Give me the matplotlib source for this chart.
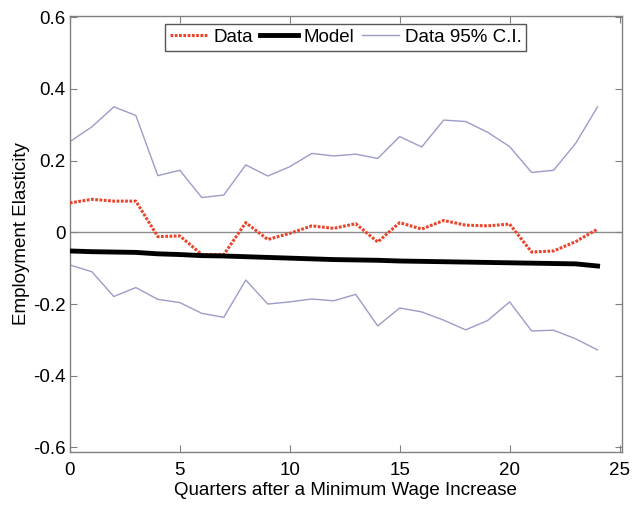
import numpy as np
import matplotlib
matplotlib.use("Agg")
import matplotlib.pyplot as plt

plt.rcParams['font.family'] = ['Liberation Sans', 'DejaVu Sans']

# Valeurs (trimestres 0 à 24)
quarters = list(range(25))
data = [0.082, 0.092, 0.087, 0.087, -0.012, -0.010, -0.062, -0.062, 0.027, -0.020,
        -0.003, 0.018, 0.011, 0.024, -0.027, 0.027, 0.009, 0.033, 0.020, 0.018,
        0.023, -0.055, -0.052, -0.026, 0.009]
model = [-0.052, -0.054, -0.055, -0.056, -0.060, -0.062, -0.065, -0.066, -0.068, -0.070,
         -0.072, -0.074, -0.076, -0.077, -0.078, -0.080, -0.081, -0.082, -0.083, -0.084,
         -0.085, -0.086, -0.087, -0.088, -0.094]
ci_upper = [0.253, 0.294, 0.350, 0.326, 0.158, 0.173, 0.097, 0.104, 0.188, 0.157,
            0.183, 0.220, 0.213, 0.218, 0.206, 0.267, 0.238, 0.313, 0.309, 0.279,
            0.239, 0.167, 0.173, 0.248, 0.350]
ci_lower = [-0.091, -0.110, -0.179, -0.154, -0.187, -0.196, -0.226, -0.237, -0.133, -0.200,
            -0.194, -0.186, -0.191, -0.173, -0.261, -0.211, -0.222, -0.245, -0.272, -0.246,
            -0.194, -0.275, -0.273, -0.297, -0.328]

fs = 13.5

fig = plt.figure(figsize=(6.41, 5.08), dpi=100)
ax = fig.add_axes([0.109, 0.110, 0.861, 0.859])

ax.axhline(0, color='#8c8c8c', linewidth=1.0, zorder=1)
ax.plot(quarters, data, color='#e8452c', linestyle=(0, (0.9, 0.5)), linewidth=2.2, label='Data', zorder=3)
ax.plot(quarters, model, color='black', linewidth=3.5, label='Model', zorder=4)
ax.plot(quarters, ci_upper, color='#9c9cc8', linewidth=1.0, label='Data 95% C.I.', zorder=2)
ax.plot(quarters, ci_lower, color='#9c9cc8', linewidth=1.0, zorder=2)

ax.set_xlim(0, 25.1)
ax.set_ylim(-0.613, 0.604)
ax.set_xticks([0, 5, 10, 15, 20, 25])
ax.set_yticks([-0.6, -0.4, -0.2, 0, 0.2, 0.4, 0.6])
ax.set_yticklabels(['-0.6', '-0.4', '-0.2', '0', '0.2', '0.4', '0.6'])
ax.tick_params(direction='in', top=True, right=True, length=5, color='#808080',
               labelsize=fs, pad=3)
ax.tick_params(axis='x', pad=7)
for s in ax.spines.values():
    s.set_color('#808080')
    s.set_linewidth(1.0)

ax.set_xlabel('Quarters after a Minimum Wage Increase', fontsize=fs, labelpad=2)
ax.set_ylabel('Employment Elasticity', fontsize=fs, labelpad=2)

leg = ax.legend(loc='upper center', ncol=3, fontsize=fs, frameon=True, fancybox=False,
                edgecolor='#555555', framealpha=1, borderpad=0.25, handlelength=2.0,
                handletextpad=0.3, columnspacing=0.4, borderaxespad=0.45,
                bbox_to_anchor=(0.5, 1.0))
leg.get_frame().set_linewidth(1.0)

fig.savefig('out.png', dpi=100)
